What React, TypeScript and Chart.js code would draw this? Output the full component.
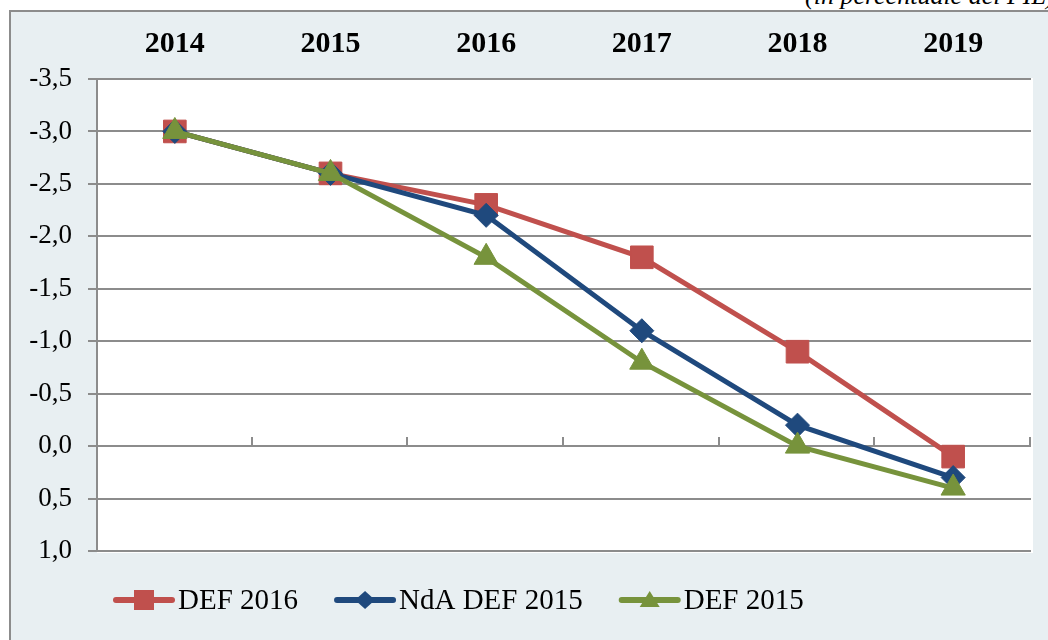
import React, { useEffect, useRef } from "react";
import { Chart, registerables } from "chart.js";

Chart.register(...registerables);

const years = ["2014", "2015", "2016", "2017", "2018", "2019"];
const def2016 = [-3.0, -2.6, -2.3, -1.8, -0.9, 0.1];
const ndaDef2015 = [-3.0, -2.6, -2.2, -1.1, -0.2, 0.3];
const def2015 = [-3.0, -2.6, -1.8, -0.8, 0.0, 0.4];
const seriesLabels = ["DEF 2016", "NdA DEF 2015", "DEF 2015"];
const seriesColors = ["#c0504d", "#1f497d", "#77933c"];
const seriesMarkers = ["rect", "rectRot", "triangle"];
const seriesRadius = [16, 12, 14];
const yMin = -3.5;
const yMax = 1.0;
const yStep = 0.5;
const unitNote = "(in percentuale del PIL)";

const GRID = "#8c8c8c";
const SERIF = "'Liberation Serif', 'Times New Roman', serif";

function fmt(v: number): string {
  const r = Math.round(v * 10) / 10;
  const s = (Math.abs(r) < 1e-9 ? 0 : r).toFixed(1);
  return s.replace(".", ",");
}

function drawMarker(ctx: CanvasRenderingContext2D, kind: string, x: number, y: number) {
  ctx.beginPath();
  if (kind === "rect") {
    ctx.rect(x - 10, y - 10, 20, 20);
  } else if (kind === "rectRot") {
    ctx.moveTo(x - 10, y);
    ctx.lineTo(x, y - 9);
    ctx.lineTo(x + 10, y);
    ctx.lineTo(x, y + 9);
    ctx.closePath();
  } else {
    ctx.moveTo(x, y - 9);
    ctx.lineTo(x + 10, y + 7);
    ctx.lineTo(x - 10, y + 7);
    ctx.closePath();
  }
  ctx.fill();
}

const plotBgPlugin = {
  id: "plotBg",
  beforeDraw(chart: any) {
    const { ctx, chartArea } = chart;
    ctx.save();
    ctx.fillStyle = "#ffffff";
    ctx.fillRect(chartArea.left, chartArea.top - 1, chartArea.right - chartArea.left + 2, chartArea.bottom - chartArea.top + 3);
    ctx.restore();
  },
};

const zeroTicksPlugin = {
  id: "zeroTicks",
  beforeDatasetsDraw(chart: any) {
    const { ctx } = chart;
    const xs = chart.scales.x;
    const ys = chart.scales.y;
    const y0 = ys.getPixelForValue(0);
    const n = years.length;
    const w = (xs.right - xs.left) / n;
    ctx.save();
    ctx.strokeStyle = GRID;
    ctx.lineWidth = 2;
    ctx.beginPath();
    for (let i = 1; i <= n; i++) {
      const x = Math.round(xs.left + i * w) - 1;
      ctx.moveTo(x, y0);
      ctx.lineTo(x, y0 - 9);
    }
    ctx.stroke();
    ctx.restore();
  },
};

const legendPlugin = {
  id: "customLegend",
  afterDraw(chart: any) {
    const { ctx } = chart;
    const y = 600;
    let x = 113;
    ctx.save();
    ctx.font = `29px ${SERIF}`;
    ctx.textBaseline = "middle";
    ctx.textAlign = "left";
    seriesLabels.forEach((label, i) => {
      const color = seriesColors[i];
      ctx.strokeStyle = color;
      ctx.lineWidth = 6;
      ctx.lineCap = "round";
      ctx.beginPath();
      ctx.moveTo(x + 3, y);
      ctx.lineTo(x + 59, y);
      ctx.stroke();
      ctx.fillStyle = color;
      drawMarker(ctx, seriesMarkers[i], x + 31, y);
      ctx.fillStyle = "#000000";
      const tx = x + 65;
      ctx.fillText(label, tx, y + 1);
      x = tx + ctx.measureText(label).width + 36;
    });
    ctx.restore();
  },
};

export default function App() {
  const canvasRef = useRef<HTMLCanvasElement | null>(null);

  useEffect(() => {
    const canvas = canvasRef.current;
    if (!canvas) return;
    const dataSeries = [def2016, ndaDef2015, def2015];
    const chart = new Chart(canvas, {
      type: "line",
      data: {
        labels: years,
        datasets: dataSeries.map((d, i) => ({
          label: seriesLabels[i],
          data: d,
          borderColor: seriesColors[i],
          backgroundColor: seriesColors[i],
          borderWidth: 5,
          pointStyle: seriesMarkers[i] as any,
          pointRadius: seriesRadius[i],
          pointBorderWidth: 1,
          pointBorderColor: seriesColors[i],
          pointBackgroundColor: seriesColors[i],
          tension: 0,
          fill: false,
          order: 3 - i,
        })),
      },
      options: {
        responsive: false,
        animation: false,
        maintainAspectRatio: false,
        layout: { padding: { left: 0, top: 0, right: 17, bottom: 89 } },
        plugins: {
          legend: { display: false },
          tooltip: { enabled: false },
          title: { display: false },
        },
        scales: {
          x: {
            type: "category",
            position: "top",
            offset: true,
            grid: { display: false, drawTicks: false },
            border: { display: false },
            ticks: {
              color: "#000000",
              font: { family: SERIF, size: 30, weight: "bold" },
              padding: 17,
              maxRotation: 0,
            },
            afterFit(scale: any) {
              scale.height = 79;
            },
          },
          y: {
            type: "linear",
            reverse: true,
            min: yMin,
            max: yMax,
            grid: {
              color: GRID,
              lineWidth: 2,
              tickLength: 9,
              drawTicks: true,
            },
            border: { display: true, color: GRID, width: 2 },
            ticks: {
              stepSize: yStep,
              color: "#000000",
              font: { family: SERIF, size: 27 },
              padding: 16,
              callback: (v: any) => fmt(Number(v)),
            },
            afterFit(scale: any) {
              scale.width = 97;
            },
          },
        },
      },
      plugins: [plotBgPlugin, zeroTicksPlugin, legendPlugin],
    });
    return () => chart.destroy();
  }, []);

  return (
    <div style={{ position: "fixed", left: 0, top: 0, width: 1048, height: 640, overflow: "hidden", background: "#ffffff" }}>
      <div
        style={{
          position: "absolute",
          left: 9,
          top: 10,
          width: 1100,
          height: 700,
          background: "#e8eff2",
          borderLeft: `2px solid ${GRID}`,
          borderTop: `2px solid ${GRID}`,
        }}
      />
      <div
        style={{
          position: "absolute",
          left: 805,
          top: -17,
          whiteSpace: "nowrap",
          fontFamily: SERIF,
          fontStyle: "italic",
          fontSize: 26,
          lineHeight: "26px",
          color: "#000000",
        }}
      >
        {unitNote}
      </div>
      <canvas ref={canvasRef} width={1048} height={640} style={{ position: "absolute", left: 0, top: 0 }} />
    </div>
  );
}
